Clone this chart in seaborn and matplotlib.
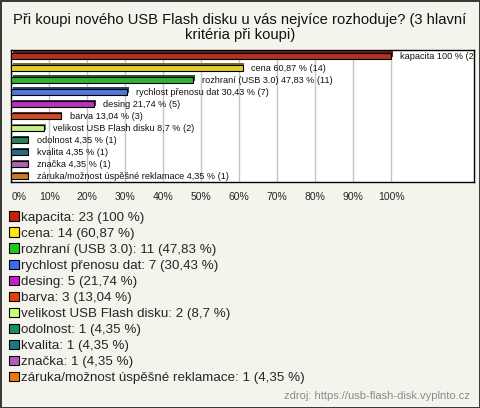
import matplotlib
matplotlib.use("Agg")
import matplotlib.pyplot as plt
import matplotlib.patheffects as pe
from matplotlib.patches import Patch
import seaborn as sns
import pandas as pd

# data
kriteria = ["kapacita", "cena", "rozhraní (USB 3.0)", "rychlost přenosu dat", "desing",
            "barva", "velikost USB Flash disku", "odolnost", "kvalita", "značka",
            "záruka/možnost úspěšné reklamace"]
pocty = [23, 14, 11, 7, 5, 3, 2, 1, 1, 1, 1]
procenta = [100, 60.87, 47.83, 30.43, 21.74, 13.04, 8.7, 4.35, 4.35, 4.35, 4.35]
barvy = ["#c81e0a", "#ffe80a", "#1ec81e", "#3c6cf0", "#c81ed2", "#e6400a",
         "#c8ff7a", "#1a9060", "#1a7888", "#b45ab9", "#e87a0a"]
osa_ticks = [0, 10, 20, 30, 40, 50, 60, 70, 80, 90, 100]

bg = "#f4f3ec"

def cz(p):
    return f"{p:g}".replace(".", ",")

df = pd.DataFrame({"kriterium": kriteria, "procenta": procenta, "pocet": pocty})

sns.set_style("white")
plt.rcParams["font.family"] = ["Liberation Sans", "DejaVu Sans"]

fig = plt.figure(figsize=(4.8, 4.08), dpi=100, facecolor=bg,
                 edgecolor="#3a3a3a", linewidth=2)
ax = fig.add_axes([0.0235, 0.5527, 0.9640, 0.3248])
ax.set_facecolor("white")

sns.barplot(data=df, y="kriterium", x="procenta", hue="kriterium",
            palette=barvy, orient="h", width=0.5, legend=False,
            edgecolor="black", linewidth=0.8, ax=ax)

for bar in ax.patches:
    bar.set_path_effects([pe.SimplePatchShadow(offset=(1.2, 1.2), rho=0.55,
                                               alpha=1.0),
                          pe.Normal()])
    bar.set_zorder(3)

for i, (k, p, n) in enumerate(zip(kriteria, procenta, pocty)):
    ax.annotate(f"{k} {cz(p)} % ({n})", xy=(p, i), xytext=(6.3, 0),
                textcoords="offset points", va="center", ha="left",
                fontsize=6.6, color="#111111", clip_on=True, zorder=4)

ax.set_xlim(0, 121.8)
ax.set_ylim(10.5, -0.5)
ax.set_xticks(osa_ticks)
ax.set_xticklabels([f"{t}%" for t in osa_ticks], fontsize=7.5)
ax.get_xticklabels()[0].set_horizontalalignment("left")
ax.tick_params(axis="x", length=0, pad=6.5)
ax.set_yticks([])
ax.set_xlabel("")
ax.set_ylabel("")
ax.grid(axis="x", color="#c4c4c4", linewidth=1, zorder=0)
ax.set_axisbelow(True)
for s in ax.spines.values():
    s.set_color("black")
    s.set_linewidth(1)

fig.text(0.5, 1 - 20 / 408, "Při koupi nového USB Flash disku u vás nejvíce rozhoduje? (3 hlavní",
         ha="center", va="center", fontsize=10.6, color="#111111")
fig.text(0.5, 1 - 35 / 408, "kritéria při koupi)",
         ha="center", va="center", fontsize=10.6, color="#111111")

handles = [Patch(facecolor=c, edgecolor="black", linewidth=0.8) for c in barvy]
labels = [f"{k}: {n} ({cz(p)} %)" for k, n, p in zip(kriteria, pocty, procenta)]
fig.legend(handles, labels, loc="upper left", bbox_to_anchor=(4 / 480, 1 - 206 / 408),
           frameon=False, fontsize=9.6, handlelength=0.7, handleheight=0.7,
           handletextpad=0.2, labelspacing=0.28, borderaxespad=0, borderpad=0.4)

fig.text(470 / 480, 1 - 396 / 408, "zdroj: https://usb-flash-disk.vyplnto.cz",
         ha="right", va="center", fontsize=8, color="#8a8a8a")

fig.savefig("out.png", dpi=100, facecolor=bg)
